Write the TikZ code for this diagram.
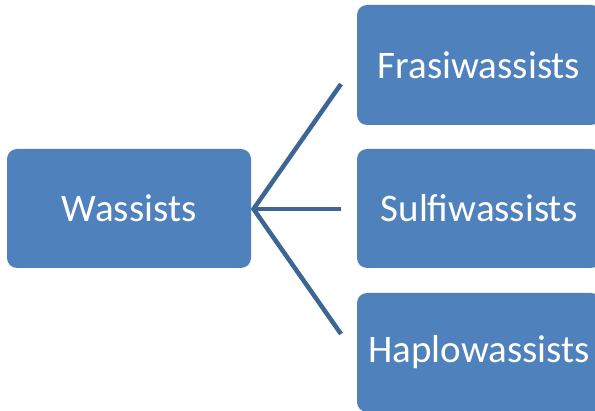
\documentclass[tikz,border=0pt]{standalone}
\usepackage{fontspec}
\setmainfont{Carlito}
\definecolor{boxblue}{HTML}{4F81BD}
\definecolor{linkblue}{HTML}{3D6595}
\begin{document}
\begin{tikzpicture}[x=1pt,y=-1pt,
  box/.style={fill=boxblue, draw=none, rounded corners=10pt},
  lbl/.style={text=white, font=\fontsize{39}{45}\selectfont, inner sep=0pt},
  link/.style={draw=linkblue, line width=4.5pt}]
\useasboundingbox (0,0) rectangle (595,411);
\path[box] (7,149) rectangle (251,268);
\path[box] (357,5) rectangle (601,125);
\path[box] (357,149) rectangle (601,268);
\path[box] (357,293) rectangle (601,412);
\node[lbl] (w) at (129,208.5) {Wassists};
\node[lbl] (f) at (479,65) {Frasiwassists};
\node[lbl] (s) at (479,208.5) {Sulfiwassists};
\node[lbl] (h) at (479,352.5) {Haplowassists};
\coordinate (j) at (253.5,209);
\coordinate (ft) at (341,84);
\coordinate (st) at (341,209);
\coordinate (ht) at (341,334);
\draw[link] (ft) -- (j) -- (ht);
\draw[link] (j) -- (st);
\end{tikzpicture}
\end{document}
